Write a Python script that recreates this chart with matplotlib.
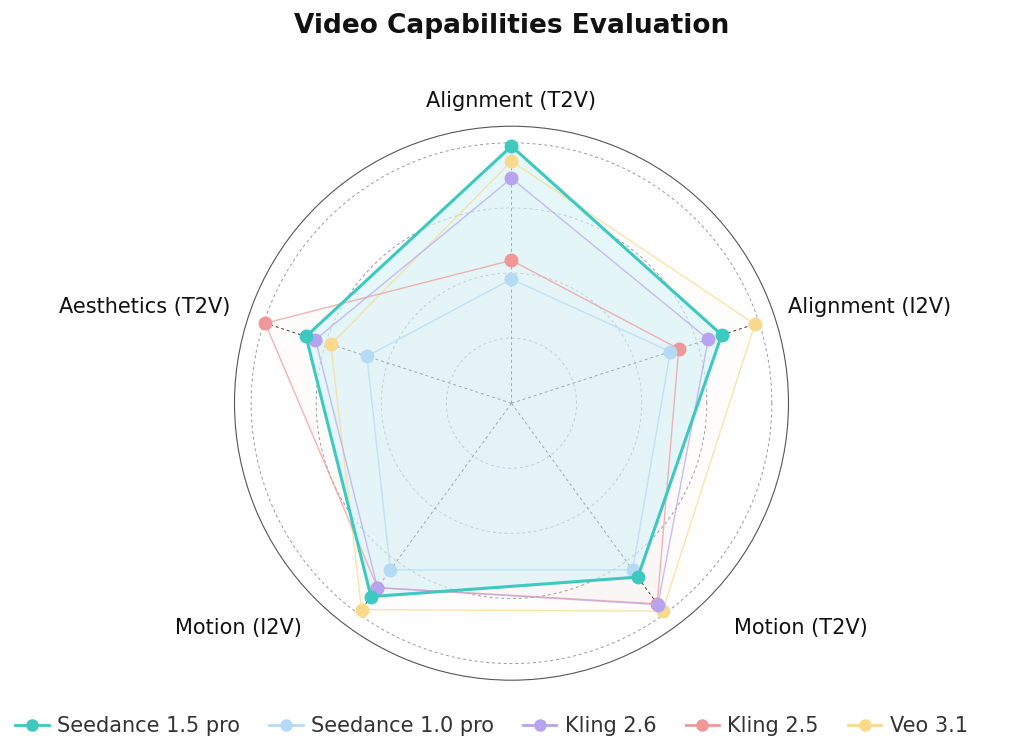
import numpy as np
import matplotlib.pyplot as plt
from matplotlib.lines import Line2D

# ── Podaci ──────────────────────────────────────────
kategorije = ['Alignment (T2V)', 'Alignment (I2V)', 'Motion (T2V)', 'Motion (I2V)', 'Aesthetics (T2V)']
seedance15 = [92.8, 79.8, 77.6, 86.3, 78.0]
seedance10 = [44.8, 60.3, 74.4, 74.4, 54.9]
kling26    = [81.2, 74.7, 89.9, 82.3, 74.4]
kling25    = [51.6, 63.5, 89.5, 82.3, 93.5]
veo31      = [87.4, 92.4, 92.8, 92.1, 68.6]

serije = [
    ('Seedance 1.5 pro', seedance15, '#3ec9c0'),
    ('Seedance 1.0 pro', seedance10, '#b4daf5'),
    ('Kling 2.6',        kling26,    '#b7a3f0'),
    ('Kling 2.5',        kling25,    '#f09797'),
    ('Veo 3.1',          veo31,      '#f9da8c'),
]

n = len(kategorije)
uglovi = [np.pi/2 - 2*np.pi*i/n for i in range(n)]
uglovi_z = uglovi + uglovi[:1]

fig = plt.figure(figsize=(10.24, 7.46), dpi=100)
ax = fig.add_axes([0.229, 0.088, 0.541, 0.743], projection='polar')
ax.set_ylim(0, 100)
ax.set_xticks([]); ax.set_yticks([])
ax.grid(False)
ax.spines['polar'].set_color('#555555')
ax.spines['polar'].set_linewidth(0.8)

# dashed krugovi i zraci
t = np.linspace(0, 2*np.pi, 300)
for r in [23.5, 47, 70.5, 94]:
    ax.plot(t, [r]*len(t), ls=(0, (3, 3)), color='#999999', lw=0.7)
for u in uglovi:
    ax.plot([u, u], [0, 94], ls=(0, (3, 3)), color='#333333', lw=0.7)

# serije (prva na vrhu)
for i, (naziv, vals, boja) in reversed(list(enumerate(serije))):
    v = vals + vals[:1]
    glavna = i == 0
    ax.fill(uglovi_z, v, color='#d6f3f8' if glavna else boja, alpha=0.6 if glavna else 0.03, zorder=2)
    ax.plot(uglovi_z, v, color=boja, lw=2.2 if glavna else 1.0, alpha=1 if glavna else 0.7, zorder=3 + (5 if glavna else 0))
    ax.plot(uglovi, vals, 'o', color=boja, ms=9, zorder=4 + (5 if glavna else 0), label=naziv)

# oznake osa
poz = [(0.499, 0.865, 'center'), (0.77, 0.589, 'left'), (0.782, 0.158, 'center'),
       (0.233, 0.158, 'center'), (0.225, 0.589, 'right')]
for (x, y, ha), k in zip(poz, kategorije):
    fig.text(x, y, k, ha=ha, va='center', fontsize=15, color='#111111')

fig.text(0.5, 0.965, 'Video Capabilities Evaluation', ha='center', va='center',
         fontsize=19, weight='bold', color='#111111')

ruc = [Line2D([], [], color=b, marker='o', ms=8, lw=2) for _, _, b in serije]
fig.legend(ruc, [s[0] for s in serije], loc='center', bbox_to_anchor=(0.48, 0.027),
           ncol=5, frameon=False, fontsize=15, handlelength=1.6, columnspacing=1.4,
           handletextpad=0.4, labelcolor='#333333')

fig.savefig('out.png', dpi=100, facecolor='white')
